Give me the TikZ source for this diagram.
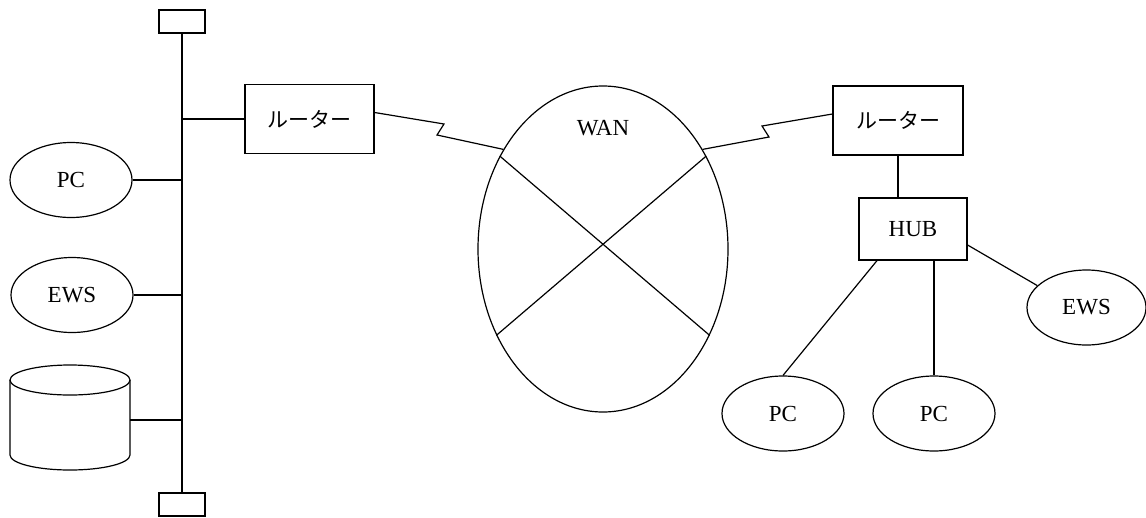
\documentclass[tikz,border=0pt]{standalone}
\usepackage{fontspec}
\setmainfont{Liberation Serif}
\newfontfamily\jpfont{Noto Sans CJK JP}
\usetikzlibrary{shapes.geometric}
\tikzset{
  net/.style={line width=1.2pt, black},
  boxnode/.style={draw, net, rectangle, inner sep=0pt, font=\jpfont\fontsize{21}{24}\selectfont},
  termbox/.style={draw, net, rectangle, inner sep=0pt, minimum width=46pt, minimum height=23pt},
  hostnode/.style={draw, net, ellipse, inner sep=0pt, minimum width=122pt, minimum height=75pt,
                   font=\fontsize{23}{26}\selectfont},
  lbl/.style={font=\fontsize{23}{26}\selectfont, inner sep=0pt}
}
\begin{document}
\begin{tikzpicture}[x=1pt, y=-1pt]
  \useasboundingbox (0,0) rectangle (1146,517);

  % --- left LAN: bus with terminators ---
  \node[termbox] (tt) at (182,21.5) {};
  \node[termbox] (tb) at (182,504.5) {};
  \draw[net] (tt.south) -- (tb.north);

  \node[boxnode, minimum width=129pt, minimum height=69pt] (rL) at (309.5,119) {ルーター};
  \node[hostnode] (pcL) at (71,180) {PC};
  \node[hostnode] (ewsL) at (72,295) {EWS};

  % disk drive (cylinder)
  \draw[net] (10,380) -- (10,455) arc[start angle=180, end angle=360, x radius=60pt, y radius=15pt]
             -- (130,380);
  \draw[net] (70,380) ellipse[x radius=60pt, y radius=15pt];
  \coordinate (disk) at (130,420);

  \draw[net] (rL.west) -- (rL.west -| tt.south);
  \draw[net] (pcL.east) -- (pcL.east -| tt.south);
  \draw[net] (ewsL.east) -- (ewsL.east -| tt.south);
  \draw[net] (disk) -- (disk -| tt.south);

  % --- WAN cloud ---
  \node[draw, net, ellipse, inner sep=0pt, minimum width=250pt, minimum height=326pt] (wan) at (603,249) {};
  \node[lbl] (wanlbl) at (603,128) {WAN};
  \draw[net] (wan.138) -- (wan.321);
  \draw[net] (wan.42) -- (wan.219);

  % --- right site ---
  \node[boxnode, minimum width=130pt, minimum height=69pt] (rR) at (898,120.5) {ルーター};
  \node[draw, net, rectangle, inner sep=0pt, minimum width=108pt, minimum height=62pt,
        font=\fontsize{23}{26}\selectfont] (hub) at (913,229) {HUB};
  \node[hostnode] (pc1) at (783,413.5) {PC};
  \node[hostnode] (pc2) at (934,413.5) {PC};
  \node[hostnode, minimum width=119pt] (ewsR) at (1086.5,307.5) {EWS};

  % serial links (zigzag)
  \draw[net] ([yshift=6.5pt]rL.east) -- (444,124) -- (437,135) -- (wan.135);
  \draw[net] (wan.45) -- (769,137) -- (762,126) -- ([yshift=6.5pt]rR.west);

  \draw[net] (rR.south) -- (rR.south |- hub.north);
  \draw[net] ([xshift=-36pt]hub.south) -- (pc1.north);
  \draw[net] (pc2.north |- hub.south) -- (pc2.north);
  \draw[net] ([yshift=-16pt]hub.east) -- (ewsR.156);
\end{tikzpicture}
\end{document}
